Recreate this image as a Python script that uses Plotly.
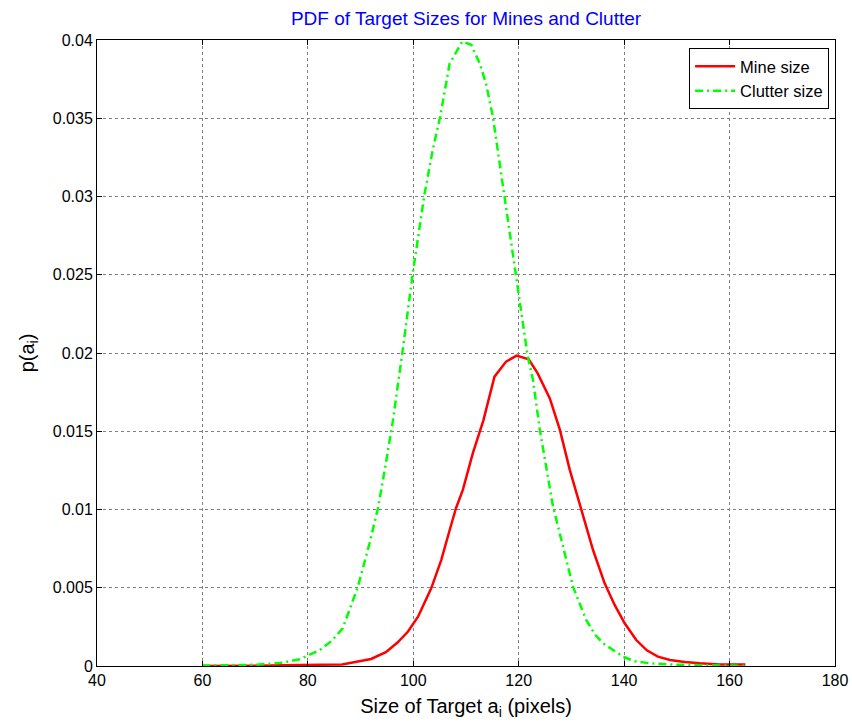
import plotly.graph_objects as go

# Mine size PDF
mine_x = [60, 65, 70, 75, 80, 84, 86.5, 89, 92, 94.8, 97, 99, 100.9, 103.4, 105.3, 107, 108.1,
          109.4, 111.3, 113.3, 115.4, 117.6, 119.6, 121.9, 123.6, 125.9, 127.8, 129.7, 131.9,
          134.1, 136.3, 138.2, 140.1, 142.3, 144.3, 146.4, 148.7, 151.5, 154.4, 158, 163]
mine_y = [0, 0, 0.00002, 0.00005, 0.00008, 0.0001, 0.0001, 0.00025, 0.00045, 0.00088, 0.0015,
          0.0022, 0.00315, 0.00496, 0.00677, 0.0088, 0.01008, 0.01125, 0.0136, 0.0157, 0.01849,
          0.01945, 0.01983, 0.0196, 0.0187, 0.0171, 0.0151, 0.01252, 0.00997, 0.00741, 0.00528,
          0.0039, 0.00273, 0.00166, 0.001, 0.0006, 0.00038, 0.00025, 0.00017, 0.0001, 0.0001]

# Clutter size PDF
clutter_x = [60, 65, 70, 75, 78.4, 82.2, 84.5, 86.6, 89.5, 91.7, 93.3, 94.8, 96.1, 98.0, 99.9,
             102.1, 103.7, 105.1, 106.9, 109.3, 111.0, 112.6, 113.8, 115.1, 116.0, 117.3, 119.5,
             121.7, 122.7, 124.0, 126.5, 128.5, 130.3, 132.8, 134.5, 136.0, 139.8, 142, 144.9,
             150, 155, 160, 163]
clutter_y = [0.00003, 0.00005, 0.00008, 0.0002, 0.00043, 0.001, 0.0016, 0.0024, 0.00507, 0.00784,
             0.01008, 0.01295, 0.0156, 0.0202, 0.0251, 0.0301, 0.033, 0.0351, 0.0385, 0.0399,
             0.0397, 0.0385, 0.0372, 0.0351, 0.033, 0.0302, 0.0251, 0.0198, 0.0183, 0.0151,
             0.0102, 0.0075, 0.00507, 0.00294, 0.002, 0.00145, 0.0006, 0.0003, 0.00017, 0.00008,
             0.00004, 0.00002, 0.00001]

x_ticks = [40, 60, 80, 100, 120, 140, 160, 180]
y_ticks = [0, 0.005, 0.01, 0.015, 0.02, 0.025, 0.03, 0.035, 0.04]
y_ticktext = ["0", "0.005", "0.01", "0.015", "0.02", "0.025", "0.03", "0.035", "0.04"]

font_family = "Liberation Sans, Arial, sans-serif"

fig = go.Figure()
fig.add_trace(go.Scatter(x=mine_x, y=mine_y, mode="lines", name="Mine size",
                         line=dict(color="#FF0000", width=2.5)))
fig.add_trace(go.Scatter(x=clutter_x, y=clutter_y, mode="lines", name="Clutter size",
                         line=dict(color="#00FF00", width=2.5, dash="8px,4px,2px,4px")))

axis_common = dict(showline=True, linecolor="black", linewidth=1, mirror="ticks",
                   ticks="inside", ticklen=5, tickcolor="black", automargin=False,
                   showgrid=True, gridcolor="#808080", gridwidth=1, griddash="dot",
                   zeroline=False, tickfont=dict(size=16, color="black", family=font_family))

fig.update_layout(
    width=852, height=723,
    margin=dict(l=97, r=17, t=40, b=57),
    paper_bgcolor="white", plot_bgcolor="white",
    font=dict(family=font_family, color="black"),
    title=dict(text="PDF of Target Sizes for Mines and Clutter", x=(97 + 835) / 2 / 852,
               xanchor="center", y=1 - 18 / 723, yanchor="middle",
               font=dict(size=19, color="#0000FF", family=font_family)),
    xaxis=dict(range=[40, 180], tickvals=x_ticks,
               title=dict(text="Size of Target a<sub>i</sub> (pixels)", standoff=10,
                          font=dict(size=20, color="black")),
               **axis_common),
    yaxis=dict(range=[0, 0.04], tickvals=y_ticks, ticktext=y_ticktext,
               title=dict(text="p(a<sub>i</sub>)", standoff=12,
                          font=dict(size=20, color="black")),
               **axis_common),
    legend=dict(x=0.992, y=0.987, xanchor="right", yanchor="top",
                bgcolor="white", bordercolor="black", borderwidth=1,
                font=dict(size=16.5, color="black", family=font_family),
                itemwidth=40),
    showlegend=True,
)

fig.write_html("out.html")
